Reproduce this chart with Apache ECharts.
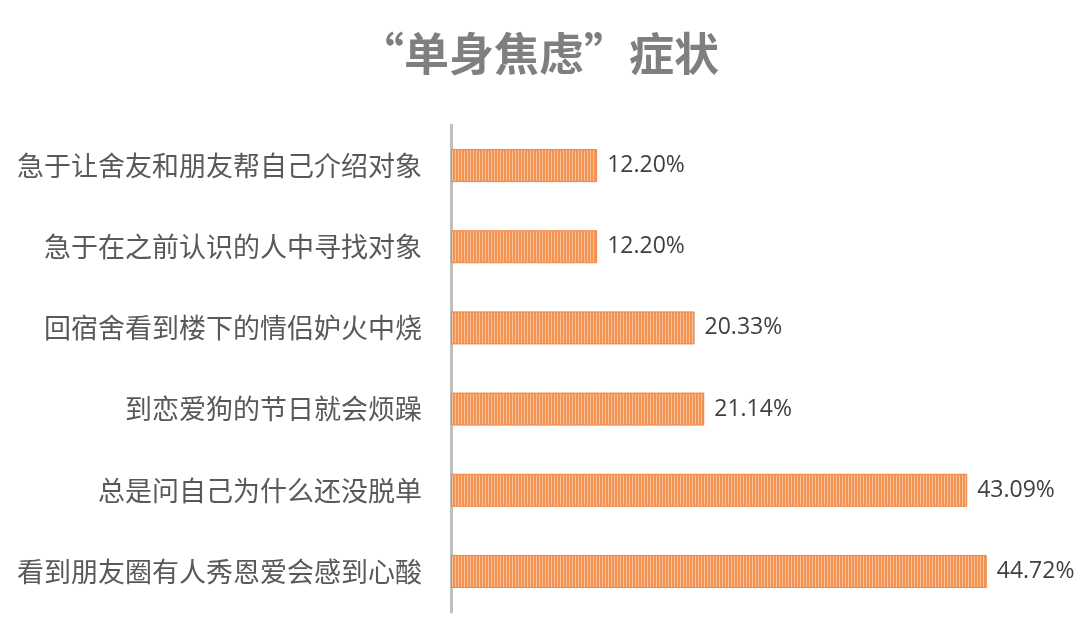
<!DOCTYPE html>
<html><head><meta charset="utf-8">
<script src="https://cdn.jsdelivr.net/npm/echarts@6/dist/echarts.min.js"></script>
<style>html,body{margin:0;padding:0;background:#fff}#c{width:1080px;height:644px}</style>
</head><body><div id="c"></div>
<script>
var categories = ["急于让舍友和朋友帮自己介绍对象","急于在之前认识的人中寻找对象","回宿舍看到楼下的情侣妒火中烧","到恋爱狗的节日就会烦躁","总是问自己为什么还没脱单","看到朋友圈有人秀恩爱会感到心酸"];
var values = [12.20, 12.20, 20.33, 21.14, 43.09, 44.72];
var titleText = "“单身焦虑”症状";

var pc = document.createElement('canvas');
pc.width = 3; pc.height = 4;
var g = pc.getContext('2d');
g.fillStyle = '#F29352'; g.fillRect(0,0,3,4);
g.fillStyle = '#F8C19B'; g.fillRect(2,0,1,4);

var chart = echarts.init(document.getElementById('c'));
chart.setOption({
  backgroundColor:'#fff',
  title:{text:titleText,left:534,textAlign:'center',top:26,textStyle:{fontFamily:'Noto Sans CJK SC',fontSize:45,fontWeight:'bold',color:'#7F7F7F'}},
  grid:{left:451,right:30,top:125,bottom:32},
  xAxis:{type:'value',min:0,max:50,show:false},
  yAxis:{type:'category',data:categories,inverse:true,
    axisLine:{show:true,lineStyle:{color:'#BFBFBF',width:3}},
    axisTick:{show:false},
    axisLabel:{margin:29,fontFamily:'Noto Sans CJK SC',fontSize:27,color:'#595959'}},
  series:[{type:'bar',data:values,barWidth:33,
    itemStyle:{color:{image:pc,repeat:'repeat'},borderColor:'#EF8540',borderWidth:1},
    label:{show:true,position:'right',distance:10,formatter:function(p){return p.value.toFixed(2)+'%';},
      fontFamily:'Open Sans',fontSize:23,color:'#404040'}}]
});
</script></body></html>
